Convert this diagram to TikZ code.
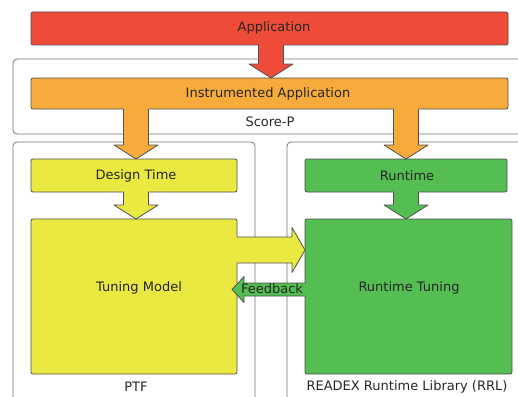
\documentclass[tikz,border=0pt]{standalone}
\usepackage{fontspec}
\setmainfont{DejaVu Sans}
\usetikzlibrary{calc}

\definecolor{appred}{RGB}{238,76,57}
\definecolor{instrorange}{RGB}{246,171,60}
\definecolor{ptfyellow}{RGB}{233,233,66}
\definecolor{rrlgreen}{RGB}{84,190,82}
\definecolor{outlinegray}{RGB}{80,80,80}
\definecolor{framegray}{RGB}{115,115,115}

\tikzstyle{box} = [draw=outlinegray,line width=0.8pt,rounded corners=2pt,inner sep=0pt,outer sep=0pt]
\tikzstyle{boxtext} = [font=\fontsize{13}{15}\selectfont,text=black!85]
\tikzstyle{frame} = [draw=framegray,line width=0.8pt,rounded corners=4pt]
\tikzstyle{outline} = [draw=outlinegray,line width=0.8pt,line join=round]

% fat arrow downwards: colour, x, from node, to node
\newcommand{\fatdown}[4]{%
  \fill[#1] let \p1=(#3.south), \p2=(#4.north) in
    ({#2pt-12.5pt},{\y1+1pt}) -- ({#2pt-12.5pt},{\y2+14pt}) -- ({#2pt-22pt},{\y2+14pt})
    -- (#2pt,\y2) -- ({#2pt+22pt},{\y2+14pt}) -- ({#2pt+12.5pt},{\y2+14pt}) -- ({#2pt+12.5pt},{\y1+1pt}) -- cycle;
  \draw[outline] let \p1=(#3.south), \p2=(#4.north) in
    ({#2pt-12.5pt},\y1) -- ({#2pt-12.5pt},{\y2+14pt}) -- ({#2pt-22pt},{\y2+14pt})
    -- (#2pt,\y2) -- ({#2pt+22pt},{\y2+14pt}) -- ({#2pt+12.5pt},{\y2+14pt}) -- ({#2pt+12.5pt},\y1);
}
% fat arrow sideways: colour, y, base, tip, shaft half, head half, head length
\newcommand{\fatside}[7]{%
  \fill[#1] let \p1=(#3), \p2=(#4), \n1={(\x2>\x1) ? 1 : -1} in
    ({\x1-\n1*1pt},{-#2pt+#5pt}) -- ({\x2-\n1*#7pt},{-#2pt+#5pt}) -- ({\x2-\n1*#7pt},{-#2pt+#6pt})
    -- (\x2,-#2pt) -- ({\x2-\n1*#7pt},{-#2pt-#6pt}) -- ({\x2-\n1*#7pt},{-#2pt-#5pt}) -- ({\x1-\n1*1pt},{-#2pt-#5pt}) -- cycle;
  \draw[outline] let \p1=(#3), \p2=(#4), \n1={(\x2>\x1) ? 1 : -1} in
    (\x1,{-#2pt+#5pt}) -- ({\x2-\n1*#7pt},{-#2pt+#5pt}) -- ({\x2-\n1*#7pt},{-#2pt+#6pt})
    -- (\x2,-#2pt) -- ({\x2-\n1*#7pt},{-#2pt-#6pt}) -- ({\x2-\n1*#7pt},{-#2pt-#5pt}) -- (\x1,{-#2pt-#5pt});
}

\begin{document}
\begin{tikzpicture}[x=1pt,y=-1pt]
      \useasboundingbox (0,0) rectangle (518,396);
      %frames
      \draw[frame] (13,59) rectangle (530,134);
      \draw[frame] (13,142) rectangle (255,410);
      \draw[frame] (287,142) rectangle (530,410);
      \node[boxtext] (scorep) at (270,122) {Score-P};
      \node[boxtext] (ptf) at (136,387) {PTF};
      \node[boxtext] (rrl) at (407,387) {READEX Runtime Library (RRL)};
      %boxes
      \foreach \nodename/\x/\y/\w/\h/\color/\tx/\ty/\text in {
        app/269.5/28.5/477/33/appred/274/28/Application,
        instr/269.5/93.5/477/31/instrorange/268/94/Instrumented Application,
        design/134/175.5/206/33/ptfyellow/136/176/Design Time,
        runtime/406/175.5/202/33/rrlgreen/407/176/Runtime,
        tuning/134/296.5/206/155/ptfyellow/139/288/Tuning Model,
        runtune/408.5/296.5/207/155/rrlgreen/409/288/Runtime Tuning}
      {
        \node[box, fill=\color, minimum width=\w pt, minimum height=\h pt] (\nodename) at (\x,\y) {};
      };
      %arrows
      \fatdown{appred}{271}{app}{instr}
      \fatdown{instrorange}{136}{instr}{design}
      \fatdown{instrorange}{406}{instr}{runtime}
      \fatdown{ptfyellow}{136}{design}{tuning}
      \fatdown{rrlgreen}{406}{runtime}{runtune}
      \fatside{ptfyellow}{250}{tuning.east}{runtune.west}{13}{22.5}{13}
      \fatside{rrlgreen}{289.5}{runtune.west}{$(tuning.east)+(-5,0)$}{6.5}{13}{12}
      %texts
      \foreach \nodename/\tx/\ty/\text in {
        app/274/28/Application,
        instr/268/94/Instrumented Application,
        design/136/176/Design Time,
        runtime/407/176/Runtime,
        tuning/139/288/Tuning Model,
        runtune/409/288/Runtime Tuning,
        feedback/272/289/Feedback}
      {
        \node[boxtext] (\nodename-text) at (\tx,\ty) {\text};
      };
\end{tikzpicture}
\end{document}
